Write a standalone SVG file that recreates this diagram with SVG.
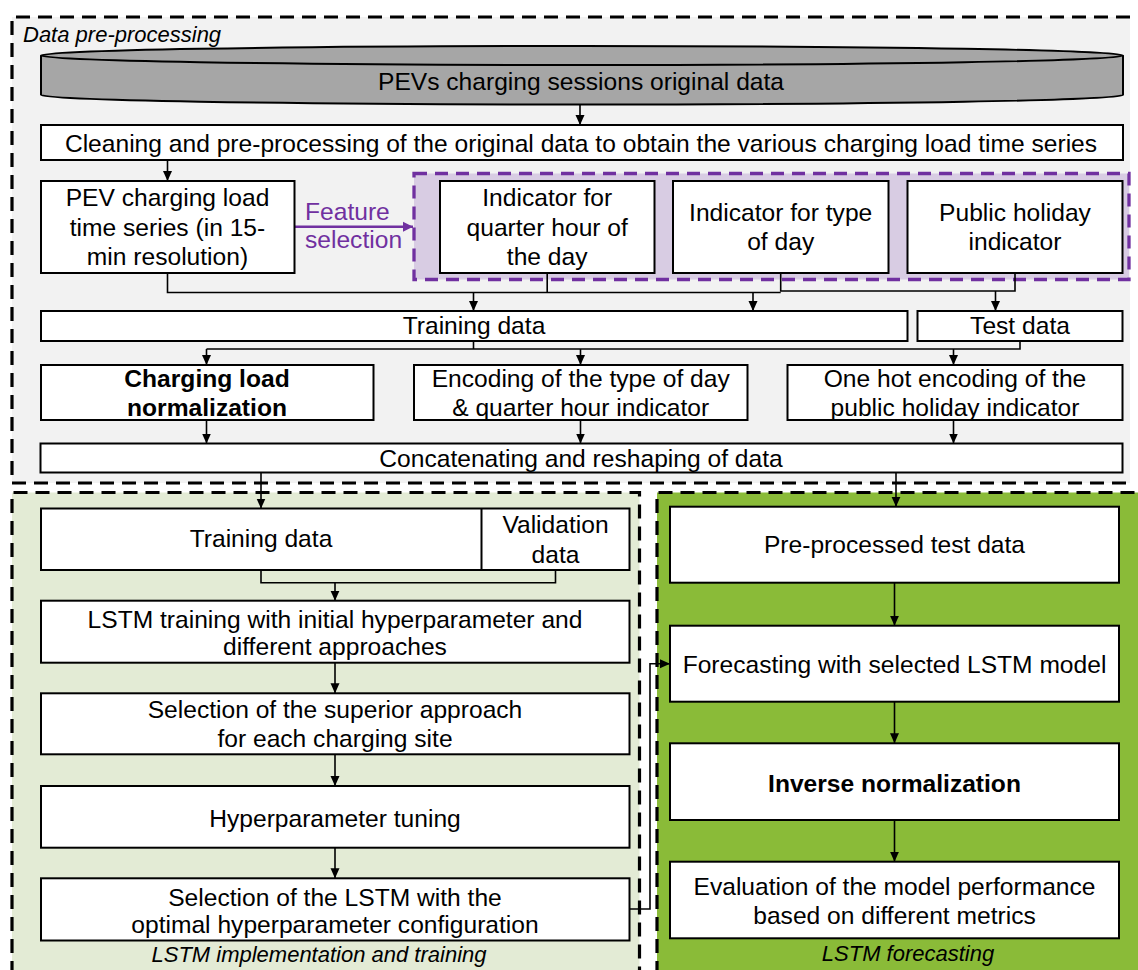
<svg xmlns="http://www.w3.org/2000/svg" width="1138" height="970" viewBox="0 0 1138 970">
<style>
text{font-family:"Liberation Sans",Arial,Helvetica,sans-serif;font-size:24.6px;fill:#000;text-anchor:middle}
.b{font-weight:bold}
.lbl{font-size:22px;font-style:italic}
.box{fill:#fff;stroke:#000;stroke-width:2}
.dash{fill:none;stroke:#000;stroke-width:3.2;stroke-dasharray:14 8}
.c{fill:none;stroke:#000;stroke-width:1.6}
.ca{fill:none;stroke:#000;stroke-width:1.6;marker-end:url(#ah)}
</style>
<defs>
<marker id="ah" markerWidth="10" markerHeight="10" refX="10" refY="5" orient="auto" markerUnits="userSpaceOnUse"><path d="M0,0.5 L10,5 L0,9.5 z" fill="#000"/></marker>
<marker id="ahp" markerWidth="11" markerHeight="11" refX="10" refY="5.5" orient="auto" markerUnits="userSpaceOnUse"><path d="M0,0.5 L10,5.5 L0,10.5 z" fill="#7030a0"/></marker>
</defs>
<rect width="1138" height="970" fill="#fff"/>

<!-- panels -->
<g id="panel-preprocessing">
<rect x="12" y="17" width="1118" height="466" fill="#f2f2f2"/>
<path class="dash" d="M1130,17 H12 V483 H1130"/>
<text class="lbl" x="23" y="42" style="text-anchor:start">Data pre-processing</text>
</g>
<g id="panel-training">
<rect x="12" y="492.5" width="627.5" height="480" fill="#e3ebd5"/>
<path class="dash" d="M12,975 V492.5 H639.5 V975"/>
<text class="lbl" x="319" y="961.5">LSTM implementation and training</text>
</g>
<g id="panel-forecasting">
<rect x="657" y="492.5" width="485" height="480" fill="#8abb38"/>
<path class="dash" d="M657,975 V492.5 H1140"/>
<text class="lbl" x="908" y="960.5">LSTM forecasting</text>
</g>
<g id="feature-group">
<rect x="414" y="173.5" width="715" height="106" fill="#d8cce3" stroke="#7030a0" stroke-width="3.3" stroke-dasharray="13 8"/>
</g>

<!-- connectors -->
<g id="connectors">
<line class="ca" x1="580" y1="104.5" x2="580" y2="125"/>
<line class="ca" x1="167.5" y1="160" x2="167.5" y2="181"/>
<line x1="294.5" y1="226.7" x2="413" y2="226.7" stroke="#7030a0" stroke-width="2.5" marker-end="url(#ahp)"/>
<polyline class="c" points="167.5,273 167.5,292.5 780.7,292.5"/>
<line class="c" x1="547.2" y1="273" x2="547.2" y2="292.5"/>
<polyline class="c" points="780.7,273 780.7,291 1015,291 1015,273"/>
<line class="ca" x1="473.5" y1="292.5" x2="473.5" y2="311"/>
<line class="ca" x1="753" y1="292.5" x2="753" y2="311"/>
<line class="ca" x1="995.5" y1="291" x2="995.5" y2="311"/>
<polyline class="c" points="473.5,341 473.5,349"/>
<polyline class="c" points="206.5,349 1020,349 1020,341"/>
<line class="ca" x1="206.5" y1="349" x2="206.5" y2="365"/>
<line class="ca" x1="580.5" y1="349" x2="580.5" y2="365"/>
<line class="ca" x1="953.5" y1="349" x2="953.5" y2="365"/>
<line class="ca" x1="206.5" y1="420" x2="206.5" y2="443.5"/>
<line class="ca" x1="580.5" y1="420" x2="580.5" y2="443.5"/>
<line class="ca" x1="953.5" y1="420" x2="953.5" y2="443.5"/>
<line class="ca" x1="261" y1="472.5" x2="261" y2="508.5"/>
<line class="ca" x1="896" y1="472.5" x2="896" y2="506.7"/>
<polyline class="c" points="261,570 261,582.7 555.5,582.7 555.5,570"/>
<line class="ca" x1="335" y1="582.7" x2="335" y2="600.7"/>
<line class="ca" x1="335" y1="662.7" x2="335" y2="693.3"/>
<line class="ca" x1="335" y1="754.3" x2="335" y2="786"/>
<line class="ca" x1="335" y1="847.7" x2="335" y2="878.3"/>
<polyline class="ca" points="629.5,909 650,909 650,663.7 670,663.7"/>
<line class="ca" x1="894.5" y1="582.7" x2="894.5" y2="625.7"/>
<line class="ca" x1="894.5" y1="701.7" x2="894.5" y2="743.3"/>
<line class="ca" x1="894.5" y1="820" x2="894.5" y2="861.7"/>
</g>

<!-- nodes -->
<g id="n-original-data">
<path d="M41,55.5 A541,9.5 0 0 1 1123,55.5 L1123,95 A541,9.5 0 0 1 41,95 Z" fill="#a6a6a6" stroke="#000" stroke-width="2"/>
<path d="M41,55.5 A541,9.5 0 0 0 1123,55.5" fill="none" stroke="#000" stroke-width="2"/>
<text x="581" y="90">PEVs charging sessions original data</text>
</g>
<g id="n-cleaning">
<rect class="box" x="41" y="125" width="1082" height="35"/>
<text x="581" y="151.5">Cleaning and pre-processing of the original data to obtain the various charging load time series</text>
</g>
<g id="n-pev-series">
<rect class="box" x="41" y="181" width="253.5" height="92"/>
<text x="167.5" y="206">PEV charging load</text>
<text x="167.5" y="235.5">time series (in 15-</text>
<text x="167.5" y="265">min resolution)</text>
</g>
<g id="n-feature-label">
<text x="305" y="220" style="text-anchor:start;fill:#7030a0">Feature</text>
<text x="305" y="248.3" style="text-anchor:start;fill:#7030a0">selection</text>
</g>
<g id="n-quarter-hour">
<rect class="box" x="440" y="181" width="214.5" height="92"/>
<text x="547.2" y="206">Indicator for</text>
<text x="547.2" y="235.5">quarter hour of</text>
<text x="547.2" y="265">the day</text>
</g>
<g id="n-type-of-day">
<rect class="box" x="673" y="181" width="215.5" height="92"/>
<text x="780.7" y="220.7">Indicator for type</text>
<text x="780.7" y="250">of day</text>
</g>
<g id="n-holiday">
<rect class="box" x="907.5" y="181" width="215" height="92"/>
<text x="1015" y="220.7">Public holiday</text>
<text x="1015" y="250">indicator</text>
</g>
<g id="n-training-data">
<rect class="box" x="41" y="311" width="866.5" height="30"/>
<text x="474" y="334">Training data</text>
</g>
<g id="n-test-data">
<rect class="box" x="917.5" y="311" width="205" height="30"/>
<text x="1020" y="334">Test data</text>
</g>
<g id="n-normalization">
<rect class="box" x="41" y="365" width="332.5" height="55"/>
<text class="b" x="207" y="386.7">Charging load</text>
<text class="b" x="207" y="416">normalization</text>
</g>
<g id="n-encoding">
<rect class="box" x="414" y="365" width="333.5" height="55"/>
<text x="580.7" y="386.7">Encoding of the type of day</text>
<text x="580.7" y="416">&amp; quarter hour indicator</text>
</g>
<g id="n-onehot">
<rect class="box" x="787.5" y="365" width="335" height="55"/>
<text x="955" y="386.7">One hot encoding of the</text>
<text x="955" y="416">public holiday indicator</text>
</g>
<g id="n-concat">
<rect class="box" x="40.5" y="443.5" width="1082" height="29"/>
<text x="581" y="466.5">Concatenating and reshaping of data</text>
</g>
<g id="n-train-val">
<rect class="box" x="41" y="508.5" width="588.5" height="61.5"/>
<line x1="481.5" y1="508.5" x2="481.5" y2="570" stroke="#000" stroke-width="2"/>
<text x="261" y="546.7">Training data</text>
<text x="555.5" y="533.3">Validation</text>
<text x="555.5" y="562.7">data</text>
</g>
<g id="n-lstm-training">
<rect class="box" x="41" y="600.7" width="588.5" height="62"/>
<text x="335" y="628.3">LSTM training with initial hyperparameter and</text>
<text x="335" y="655">different approaches</text>
</g>
<g id="n-superior">
<rect class="box" x="41" y="693.3" width="588.5" height="61"/>
<text x="335" y="718.3">Selection of the superior approach</text>
<text x="335" y="747.3">for each charging site</text>
</g>
<g id="n-tuning">
<rect class="box" x="41" y="786" width="588.5" height="61.7"/>
<text x="335" y="826.7">Hyperparameter tuning</text>
</g>
<g id="n-select-lstm">
<rect class="box" x="41" y="878.3" width="588.5" height="62.2"/>
<text x="335" y="905.7">Selection of the LSTM with the</text>
<text x="335" y="933.3">optimal hyperparameter configuration</text>
</g>
<g id="n-preprocessed-test">
<rect class="box" x="670" y="506.7" width="449" height="76"/>
<text x="894.5" y="553.3">Pre-processed test data</text>
</g>
<g id="n-forecasting">
<rect class="box" x="670" y="625.7" width="449" height="76"/>
<text x="894.5" y="672.7">Forecasting with selected LSTM model</text>
</g>
<g id="n-inverse">
<rect class="box" x="670" y="743.3" width="449" height="76.7"/>
<text class="b" x="894.5" y="791.7">Inverse normalization</text>
</g>
<g id="n-evaluation">
<rect class="box" x="670" y="861.7" width="449" height="76.6"/>
<text x="894.5" y="895">Evaluation of the model performance</text>
<text x="894.5" y="924">based on different metrics</text>
</g>
</svg>
